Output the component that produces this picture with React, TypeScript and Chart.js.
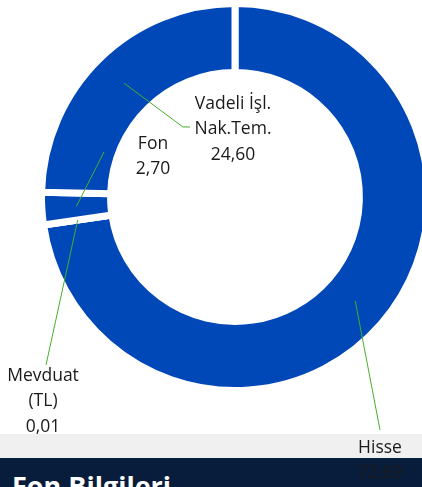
import React, { useEffect, useRef } from "react";
import { Chart, registerables } from "chart.js";

Chart.register(...registerables);

// ---- data ----
const categories = ["Hisse", "Mevduat (TL)", "Fon", "Vadeli İşl. Nak.Tem."];
const categoryLines = [["Hisse"], ["Mevduat", "(TL)"], ["Fon"], ["Vadeli İşl.", "Nak.Tem."]];
const values = [72.69, 0.01, 2.7, 24.6];
const valueLabels = values.map((v) => v.toFixed(2).replace(".", ","));

// ---- layout (page px) ----
const CANVAS_W = 470;
const CANVAS_H = 487;
// label blocks: centre x, first line y, leader-line path end points
const labelLayout = [
  { x: 380, y: 448, path: [[380, 430]] },
  { x: 43, y: 376, path: [[46, 365]] },
  { x: 153, y: 144, path: [[104, 152]] },
  { x: 233, y: 104, path: [[183, 127], [190, 127]] },
];
const LINE_H = 25.5;

const labelPlugin = {
  id: "leaderLabels",
  afterDraw(chart: any) {
    const ctx = chart.ctx;
    const meta = chart.getDatasetMeta(0);
    ctx.save();
    meta.data.forEach((arc: any, i: number) => {
      const p = arc.tooltipPosition();
      const lay = labelLayout[i];
      ctx.beginPath();
      ctx.strokeStyle = "#47ae2c";
      ctx.lineWidth = 1;
      ctx.moveTo(p.x, p.y);
      lay.path.forEach(([x, y]) => ctx.lineTo(x, y));
      ctx.stroke();
    });
    ctx.fillStyle = "#1a1a1a";
    ctx.font = "17.5px 'Open Sans', sans-serif";
    ctx.textAlign = "center";
    ctx.textBaseline = "middle";
    meta.data.forEach((_arc: any, i: number) => {
      const lay = labelLayout[i];
      const lines = [...categoryLines[i], valueLabels[i]];
      lines.forEach((t, k) => ctx.fillText(t, lay.x, lay.y + k * LINE_H));
    });
    ctx.restore();
  },
};

export default function App() {
  const ref = useRef<HTMLCanvasElement | null>(null);
  useEffect(() => {
    if (!ref.current) return;
    const chart = new Chart(ref.current, {
      type: "doughnut",
      data: {
        labels: categories,
        datasets: [
          {
            data: values,
            backgroundColor: "#0047b8",
            borderColor: "#ffffff",
            borderWidth: 7,
            hoverBorderWidth: 0,
          },
        ],
      },
      options: {
        responsive: false,
        animation: false,
        cutout: "64.3%",
        layout: { padding: { left: 38, right: 38, top: 0, bottom: 93 } },
        plugins: { legend: { display: false }, tooltip: { enabled: false } },
        events: [],
      },
      plugins: [labelPlugin],
    });
    return () => chart.destroy();
  }, []);

  return (
    <div
      style={{
        position: "fixed",
        left: 0,
        top: 0,
        width: 422,
        height: 487,
        overflow: "hidden",
        background: "#ffffff",
      }}
    >
      <div style={{ position: "absolute", left: 0, top: 434, width: 422, height: 24, background: "#f0f0f0" }} />
      <div style={{ position: "absolute", left: 0, top: 458, width: 422, height: 29, background: "#081c3b" }} />
      <div
        style={{
          position: "absolute",
          left: 12,
          top: 472,
          fontFamily: "'Open Sans', sans-serif",
          fontWeight: 700,
          fontSize: 27,
          lineHeight: "27px",
          color: "#ffffff",
          whiteSpace: "nowrap",
        }}
      >
        Fon Bilgileri
      </div>
      <canvas
        ref={ref}
        width={CANVAS_W}
        height={CANVAS_H}
        style={{ position: "absolute", left: 0, top: 0, width: CANVAS_W, height: CANVAS_H }}
      />
    </div>
  );
}
